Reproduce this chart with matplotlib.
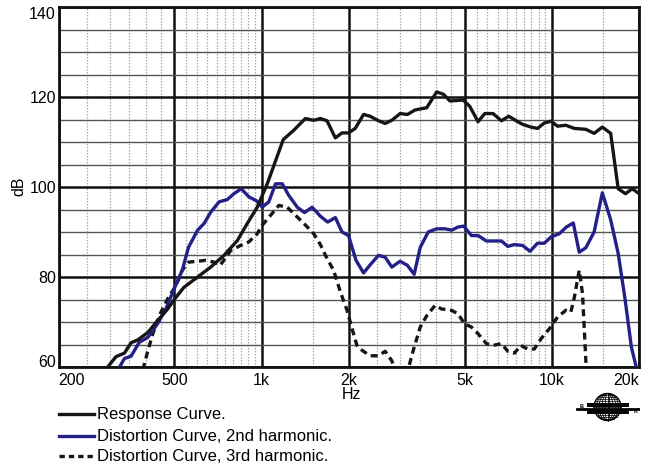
import numpy as np
import matplotlib.pyplot as plt
from matplotlib.patches import Ellipse

plt.rcParams['font.family'] = ['Liberation Sans', 'DejaVu Sans']

# response curve
resp_f = [290, 315, 337, 355, 374, 406, 438, 475, 503, 540, 602, 668, 742, 825, 893, 966,
          1046, 1187, 1291, 1415, 1512, 1594, 1680, 1795, 1892, 1993, 2102, 2245, 2366, 2527,
          2664, 2809, 3000, 3177, 3381, 3706, 4010, 4226, 4455, 4947, 5213, 5567, 5873, 6270,
          6700, 7107, 7530, 7930, 8470, 8920, 9420, 9930, 10460, 11170, 11950, 13090, 13980,
          14920, 15940, 16920, 17930, 18890, 19900]
resp_db = [59.5, 62.4, 63.2, 65.5, 66.1, 67.8, 70.4, 73.0, 75.3, 77.8, 80.1, 82.3, 84.9, 88.2,
           92.0, 95.6, 100.8, 110.6, 112.7, 115.3, 114.9, 115.3, 114.8, 111.0, 112.1, 112.1,
           113.1, 116.2, 115.8, 114.8, 114.2, 114.9, 116.4, 116.2, 117.2, 117.7, 121.2, 120.7,
           119.2, 119.4, 118.0, 114.6, 116.4, 116.4, 114.8, 115.8, 114.8, 114.0, 113.4, 113.1,
           114.3, 114.7, 113.6, 113.8, 113.1, 112.9, 112.0, 113.4, 112.0, 99.7, 98.6, 99.7, 98.7]

# 2nd harmonic
h2_f = [320, 337, 355, 379, 406, 438, 468, 500, 533, 560, 602, 634, 668, 714, 762, 803, 851,
        904, 961, 1005, 1059, 1117, 1178, 1241, 1327, 1405, 1493, 1594, 1689, 1795, 1892, 1993,
        2115, 2245, 2380, 2527, 2664, 2809, 3000, 3177, 3354, 3520, 3751, 4010, 4280, 4514,
        4751, 4970, 5280, 5567, 5950, 6355, 6700, 7050, 7430, 7930, 8410, 8920, 9420, 9930,
        10600, 11220, 11850, 12420, 13090, 13980, 14920, 15940, 16920, 17830, 18790, 19630]
h2_db = [59.5, 62.0, 62.5, 65.6, 66.7, 69.7, 73.0, 77.5, 81.6, 86.7, 90.5, 92.0, 94.5, 96.8,
         97.3, 98.6, 99.7, 97.9, 97.0, 95.6, 96.8, 100.8, 100.8, 98.2, 95.6, 94.4, 95.6, 93.6,
         92.3, 93.3, 90.1, 89.3, 83.8, 81.0, 83.0, 84.9, 84.5, 82.3, 83.6, 82.7, 80.7, 86.7,
         90.1, 90.8, 90.8, 90.5, 91.2, 91.4, 89.3, 89.3, 88.1, 88.1, 88.1, 86.9, 87.3, 87.1,
         85.8, 87.6, 87.6, 89.0, 89.7, 91.2, 92.1, 85.6, 86.6, 90.1, 98.8, 92.8, 85.3, 75.6,
         64.5, 59.5]

# 3rd harmonic
h3_f = [390, 406, 422, 448, 475, 507, 533, 560, 602, 642, 686, 720, 783, 846, 904, 966, 1005,
        1074, 1147, 1225, 1309, 1398, 1512, 1594, 1680, 1770, 1870, 1970, 2050, 2130, 2220,
        2366, 2527, 2664, 2809, 2900, 3180, 3330, 3520, 3706, 3960, 4170, 4514, 4751, 5000,
        5280, 5567, 5950, 6270, 6700, 7050, 7430, 7820, 8240, 8700, 9180, 9800, 10460, 11170,
        11620, 11950, 12420, 12750, 13150]
h3_db = [59.5, 63.8, 67.5, 72.0, 75.3, 78.2, 81.6, 83.4, 83.6, 83.8, 83.4, 82.7, 86.0, 87.1,
         87.9, 89.7, 91.6, 93.8, 96.0, 95.6, 93.8, 92.0, 89.7, 87.3, 84.2, 81.6, 76.7, 72.7,
         68.6, 64.9, 63.8, 62.6, 62.6, 63.6, 61.5, 59.0, 59.0, 63.8, 69.0, 71.5, 73.8, 73.0,
         72.7, 71.9, 69.7, 69.0, 67.5, 65.3, 64.9, 65.3, 63.6, 63.2, 64.9, 64.1, 64.1, 66.4,
         68.6, 71.2, 72.7, 72.3, 75.6, 81.6, 76.4, 59.0]

x_ticks = [200, 500, 1000, 2000, 5000, 10000, 20000]
x_labels = ['200', '500', '1k', '2k', '5k', '10k', '20k']
x_minor = [250, 300, 350, 400, 450, 550, 600, 650, 700, 750, 800, 850, 900, 950, 1500,
           2500, 3000, 3500, 4000, 4500, 5500, 6000, 6500, 7000, 7500, 8000, 8500, 9000,
           9500, 15000]
y_ticks = [60, 80, 100, 120, 140]

FS = 11.5
LW = 2.4
DASH = (2.1, 1.4)

fig = plt.figure(figsize=(6.55, 4.65), dpi=100)
ax = fig.add_axes([0.0896, 0.2097, 0.8864, 0.7746])

navy = '#24208a'
ax.plot(resp_f, resp_db, color='#161616', lw=LW, solid_joinstyle='round', zorder=5)
ax.plot(h2_f, h2_db, color=navy, lw=LW, solid_joinstyle='round', zorder=4)
ax.plot(h3_f, h3_db, color='#161616', lw=LW, dashes=DASH, zorder=3)

ax.set_xscale('log')
ax.set_xlim(200, 20000)
ax.set_ylim(60, 140)
ax.set_xticks(x_ticks)
ax.set_xticklabels(x_labels)
ax.set_xticks(x_minor, minor=True)
ax.set_yticks(y_ticks)
ax.set_yticks(range(65, 140, 5), minor=True)
ax.tick_params(which='both', length=0)
ax.tick_params(axis='x', labelsize=FS, pad=4)
ax.tick_params(axis='y', labelsize=FS, pad=2)
ax.tick_params(axis='x', which='minor', labelbottom=False)
lbls = ax.get_xticklabels()
lbls[0].set_ha('left')
lbls[-1].set_ha('right')
ylbls = ax.get_yticklabels()
ylbls[0].set_va('baseline')
ylbls[-1].set_va('top')

ax.xaxis.grid(True, which='major', color='#111111', lw=1.8)
ax.xaxis.grid(True, which='minor', color='#a8a8a8', lw=0.9, ls=(0, (1.2, 1.2)))
ax.yaxis.grid(True, which='major', color='#111111', lw=1.8)
ax.yaxis.grid(True, which='minor', color='#555555', lw=1.0)
ax.set_axisbelow(True)
for s in ax.spines.values():
    s.set_linewidth(2.0)
    s.set_color('#111111')

fig.text(19 / 655, 1 - 186 / 465, 'dB', rotation=90, fontsize=FS, ha='center', va='center')
fig.text(351 / 655, 1 - 394 / 465, 'Hz', fontsize=FS, ha='center', va='center')

# legend drawn by hand below the axes
leg = fig.add_axes([0, 0, 1, 0.2], facecolor='none')
leg.set_xlim(0, 655)
leg.set_ylim(93, 0)
leg.axis('off')
rows = [(414 - 372, 'Response Curve.', '#161616', '-'),
        (436 - 372, 'Distortion Curve, 2nd harmonic.', navy, '-'),
        (456 - 372, 'Distortion Curve, 3rd harmonic.', '#161616', '--')]
for yy, txt, col, ls in rows:
    if ls == '--':
        leg.plot([59, 94], [yy, yy], color=col, lw=LW, dashes=(1.6, 1.2))
    else:
        leg.plot([59, 94], [yy, yy], color=col, lw=LW)
    leg.text(97, yy, txt, fontsize=12, va='center', ha='left')

# globe logo
lg = fig.add_axes([576 / 655, 1 - 422 / 465, 64 / 655, 30 / 465], facecolor='none')
lg.set_xlim(0, 64)
lg.set_ylim(0, 30)
lg.axis('off')
cx, cy, r = 31.5, 15, 13.5
lg.add_patch(Ellipse((cx, cy), 2 * r, 2 * r, fill=False, lw=1.0, color='black'))
for w in [5, 11, 17, 22]:
    lg.add_patch(Ellipse((cx, cy), w, 2 * r, fill=False, lw=0.6, color='black'))
lg.plot([cx, cx], [cy - r, cy + r], color='black', lw=0.6)
for yy in np.arange(-12, 13, 2.0):
    hw = np.sqrt(max(r ** 2 - yy ** 2, 0))
    lg.plot([cx - hw, cx + hw], [cy + yy, cy + yy], color='black', lw=0.5)
lg.plot([1, 63], [cy - 1.5, cy - 1.5], color='black', lw=2.0)
for yy in [cy + 1.0, cy + 3.0, cy - 3.5, cy - 5.5]:
    lg.plot([12, 52], [yy, yy], color='black', lw=1.4)
lg.text(4, cy + 0.8, 'B', fontsize=4, fontweight='bold', ha='left', va='center')
lg.text(62, cy - 4.5, 'K', fontsize=4, fontweight='bold', ha='right', va='center')

fig.savefig('out.png', dpi=100)
